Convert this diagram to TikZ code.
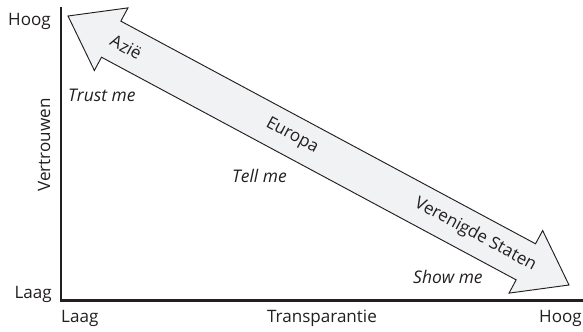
\documentclass[tikz,border=0pt]{standalone}
\usepackage{fontspec}
\setmainfont{Open Sans}
\usepackage{tikz}
\usetikzlibrary{positioning,calc}
\definecolor{inkGray}{RGB}{35,31,32}
\definecolor{arrowGray}{RGB}{241,242,244}

\begin{document}
\begin{tikzpicture}[
  x=0.85pt, y=-0.85pt,
  axisLabel/.style={inner sep=0pt, text=inkGray,
                    font=\fontsize{14.5}{16}\selectfont},
  arrowLabel/.style={axisLabel, rotate=-28.2},
  quoteLabel/.style={axisLabel, font=\fontsize{14.8}{16}\selectfont\itshape}
]
  \useasboundingbox (0,0) rectangle (583,331);

  % Axes
  \coordinate (yTop) at (61.3,7);
  \coordinate (origin) at (61.3,300.5);
  \coordinate (xEnd) at (583,300.5);
  \draw[line width=2pt, inkGray] (yTop) -- (origin) -- (xEnd);

  \node[axisLabel, anchor=base east] (yHigh) at (51,26) {Hoog};
  \node[axisLabel, anchor=base east] (yLow) at (52,298) {Laag};
  \node[axisLabel, rotate=90] (yTitle) at (44,145) {Vertrouwen};
  \node[axisLabel, anchor=base west] (xLow) at (61,322) {Laag};
  \node[axisLabel, anchor=base] (xTitle) at (322,322) {Transparantie};
  \node[axisLabel, anchor=base east] (xHigh) at (582,322) {Hoog};

  % Double arrow
  \coordinate (tipA) at (68,16);
  \coordinate (tipB) at (569,285);
  \coordinate (baseA) at ($(tipA)!41.65pt!(tipB)$);
  \coordinate (baseB) at ($(tipB)!41.65pt!(tipA)$);
  \draw[fill=arrowGray, draw=inkGray, line width=0.8pt, line join=miter]
    (tipA) -- ($(baseA)!30.2pt!90:(tipB)$) -- ($(baseA)!17.4pt!90:(tipB)$)
    -- ($(baseB)!17.4pt!-90:(tipA)$) -- ($(baseB)!30.2pt!-90:(tipA)$)
    -- (tipB) -- ($(baseB)!30.2pt!90:(tipA)$) -- ($(baseB)!17.4pt!90:(tipA)$)
    -- ($(baseA)!17.4pt!-90:(tipB)$) -- ($(baseA)!30.2pt!-90:(tipB)$)
    -- cycle;

  \node[arrowLabel] (asia) at ($(tipA)!0.116!(tipB)$) {Azië};
  \node[arrowLabel] (europe) at ($(tipA)!0.447!(tipB)$) {Europa};
  \node[arrowLabel] (usa) at ($(tipA)!0.813!(tipB)$) {Verenigde Staten};

  \node[quoteLabel, anchor=base west] (trust) at (68,101) {Trust me};
  \node[quoteLabel, anchor=base west] (tell) at (232,182) {Tell me};
  \node[quoteLabel, anchor=base west] (show) at (413,283) {Show me};
\end{tikzpicture}
\end{document}
